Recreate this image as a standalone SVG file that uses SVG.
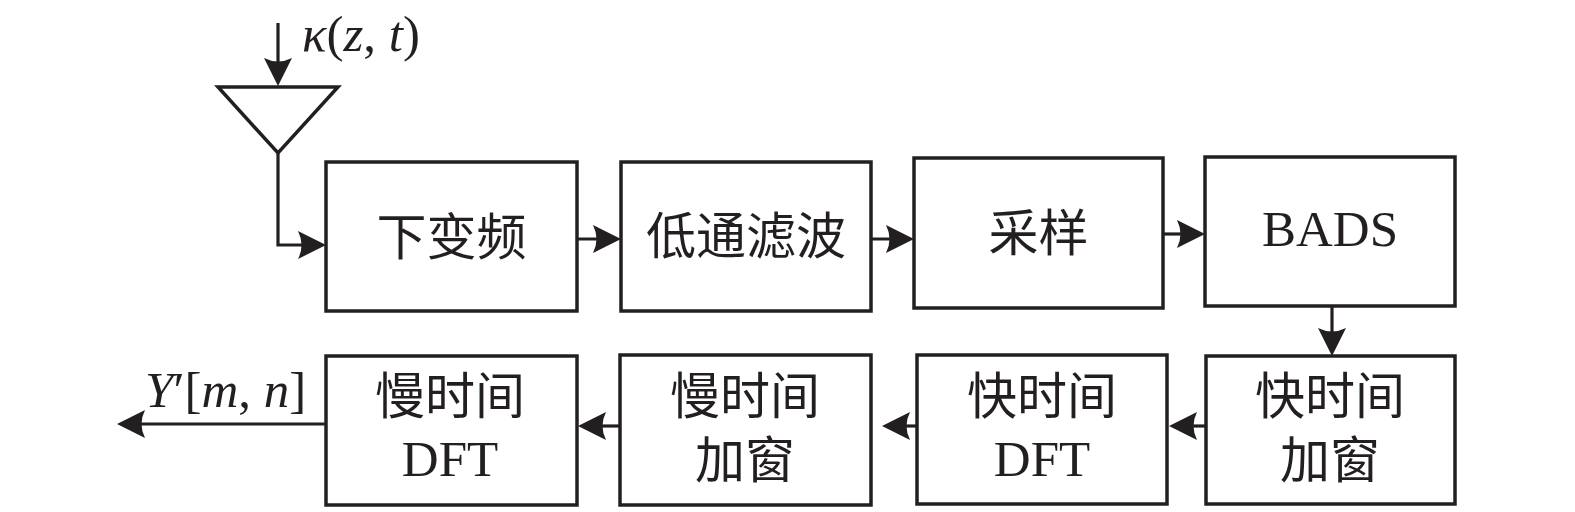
<svg xmlns="http://www.w3.org/2000/svg" width="1575" height="512" viewBox="0 0 1575 512">
<defs>
<style>
.box{fill:#fff;stroke:#231f20;stroke-width:3.5}
.conn{fill:none;stroke:#231f20;stroke-width:3.2;marker-end:url(#arr)}
.cjk{font-family:"Liberation Serif","Noto Sans CJK SC","Noto Sans CJK JP",serif;font-size:50px;fill:#231f20;text-anchor:middle}
.lat{font-family:"Liberation Serif","Times New Roman",serif;font-size:51px;fill:#231f20;text-anchor:middle}
.math{font-family:"Liberation Serif","Times New Roman",serif;font-size:51px;fill:#231f20}
.it{font-style:italic}
</style>
<marker id="arr" markerUnits="userSpaceOnUse" viewBox="-30 -15 32 30" refX="-10" refY="0" markerWidth="32" markerHeight="30" orient="auto">
<path d="M0,0 L-28,-14 Q-21,0 -28,14 Z" fill="#231f20"/>
</marker>
</defs>
<rect width="1575" height="512" fill="#fff"/>

<g id="antenna">
<polygon points="218,87 338,87 278,153" fill="none" stroke="#231f20" stroke-width="3.5"/>
<text class="math" x="302" y="51"><tspan class="it">κ</tspan>(<tspan class="it">z</tspan>, <tspan class="it">t</tspan>)</text>
</g>

<g id="n1"><rect class="box" x="326" y="162" width="251" height="149"/><text class="cjk" x="451.5" y="255">下变频</text></g>
<g id="n2"><rect class="box" x="621" y="162" width="250" height="149"/><text class="cjk" x="746" y="254">低通滤波</text></g>
<g id="n3"><rect class="box" x="914" y="158" width="249" height="150"/><text class="cjk" x="1038.5" y="251">采样</text></g>
<g id="n4"><rect class="box" x="1205" y="157" width="250" height="149"/><text class="lat" x="1330" y="246">BADS</text></g>

<g id="n5"><rect class="box" x="1206" y="356" width="249" height="148"/><text class="cjk" x="1330" y="414">快时间</text><text class="cjk" x="1330" y="478">加窗</text></g>
<g id="n6"><rect class="box" x="917" y="355" width="250" height="149"/><text class="cjk" x="1042" y="414">快时间</text><text class="lat" x="1042" y="476">DFT</text></g>
<g id="n7"><rect class="box" x="620" y="355" width="251" height="150"/><text class="cjk" x="745" y="414">慢时间</text><text class="cjk" x="745" y="478">加窗</text></g>
<g id="n8"><rect class="box" x="326" y="356" width="251" height="149"/><text class="cjk" x="450" y="414">慢时间</text><text class="lat" x="450" y="476">DFT</text></g>

<g id="output-label">
<text class="math" x="145" y="407"><tspan class="it">Y</tspan>′[<tspan class="it">m</tspan>, <tspan class="it">n</tspan>]</text>
</g>

<g id="connectors">
<path class="conn" d="M278,23 L278,76"/>
<path class="conn" d="M278,153 L278,245 L316,245"/>
<path class="conn" d="M577,239 L611,239"/>
<path class="conn" d="M871,239 L904,239"/>
<path class="conn" d="M1163,234 L1195,234"/>
<path class="conn" d="M1332,306 L1332,346"/>
<path class="conn" d="M1206,426 L1179,426"/>
<path class="conn" d="M917,426 L892,426"/>
<path class="conn" d="M620,426 L588,426"/>
<path class="conn" d="M326,424 L127,424"/>
</g>
</svg>
